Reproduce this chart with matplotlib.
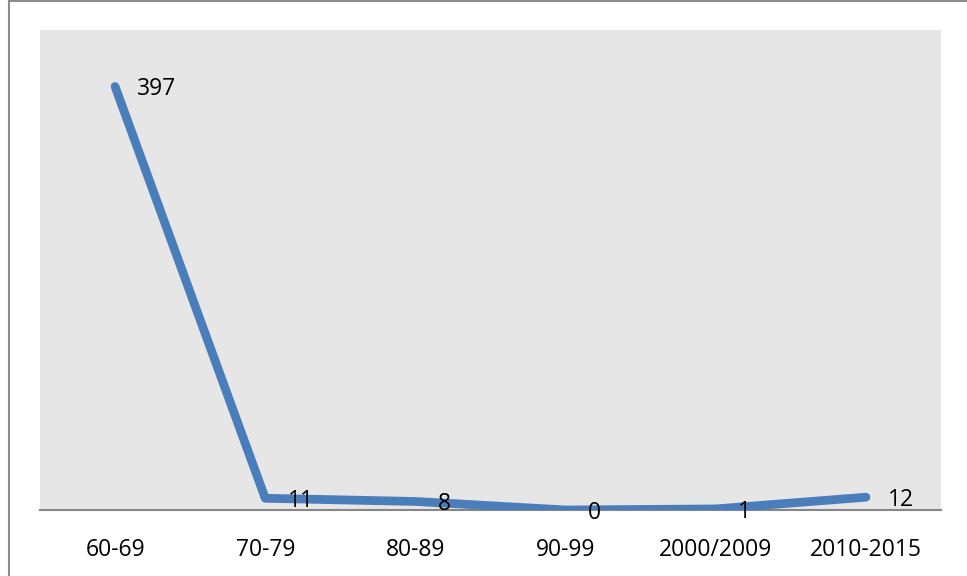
import matplotlib.pyplot as plt
from matplotlib.patches import Rectangle

# data
periods = ["60-69", "70-79", "80-89", "90-99", "2000/2009", "2010-2015"]
counts = [397, 11, 8, 0, 1, 12]

plt.rcParams['font.family'] = ['Open Sans', 'DejaVu Sans']

W, H = 967, 576
fig = plt.figure(figsize=(W / 100, H / 100), dpi=100)

# outer chart border (only top and left edges fall inside the picture)
fig.patches.append(Rectangle((9 / W, -0.05), 1.1, 1 - 1 / H + 0.05,
                             transform=fig.transFigure, fill=False,
                             edgecolor="#8c8c8c", linewidth=1.5))

ax = fig.add_axes([40 / W, (H - 510) / H, 901 / W, 480 / H])
ax.set_facecolor("#e6e6e6")

x = list(range(len(periods)))
ax.plot(x, counts, color="#4a7ebb", linewidth=6.3,
        solid_capstyle="round", solid_joinstyle="round", zorder=3)

for xi, v in zip(x, counts):
    ax.annotate(str(v), (xi, v), xytext=(16, -2), textcoords="offset points",
                ha="left", va="center", fontsize=16.5, color="black", zorder=4)

ax.set_xlim(-0.5, len(periods) - 0.5)
ax.set_ylim(0, 450)
ax.set_xticks(x)
ax.set_xticklabels(periods, fontsize=16.5)
ax.set_yticks([])
ax.tick_params(axis="x", length=0, pad=20)

for s in ["top", "right", "left"]:
    ax.spines[s].set_visible(False)
ax.spines["bottom"].set_color("#868686")
ax.spines["bottom"].set_linewidth(1.5)
ax.spines["bottom"].set_zorder(2)

fig.savefig("out.png", dpi=100)
